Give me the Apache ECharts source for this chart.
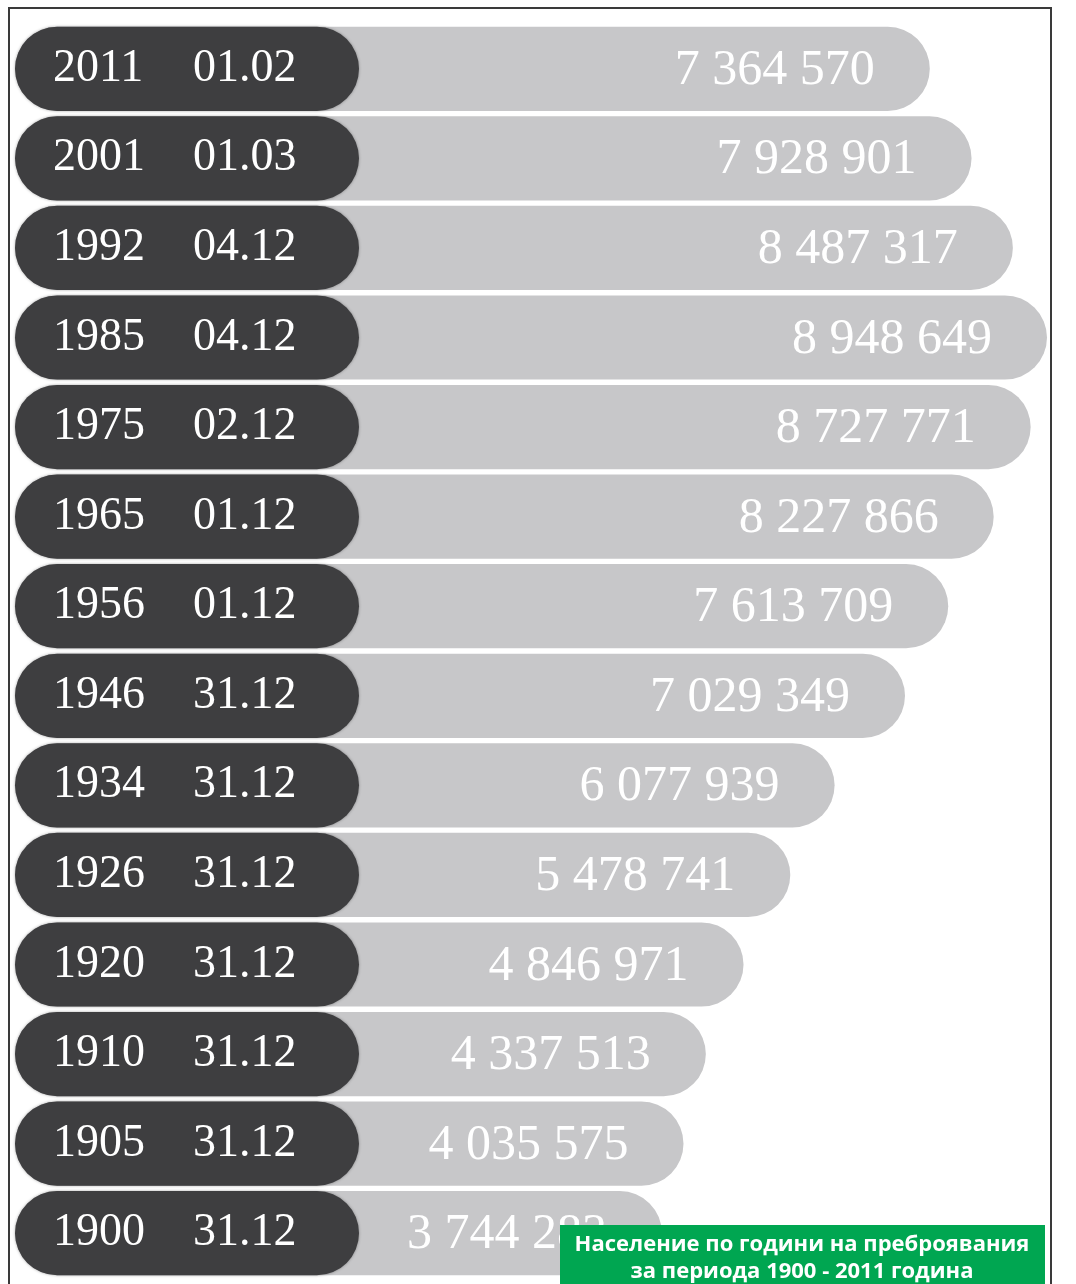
<!DOCTYPE html>
<html>
<head>
<meta charset="utf-8">
<script src="https://cdn.jsdelivr.net/npm/echarts@6/dist/echarts.min.js"></script>
<style>
  html, body { margin: 0; padding: 0; background: #fff; }
  #chart { width: 1076px; height: 1284px; }
</style>
</head>
<body>
<div id="chart"></div>
<script>
// преброявания — година, дата, население
const years = ['2011', '2001', '1992', '1985', '1975', '1965', '1956', '1946', '1934', '1926', '1920', '1910', '1905', '1900']
const dates = ['01.02', '01.03', '04.12', '04.12', '02.12', '01.12', '01.12', '31.12', '31.12', '31.12', '31.12', '31.12', '31.12', '31.12']
const population = [7364570, 7928901, 8487317, 8948649, 8727771, 8227866, 7613709, 7029349, 6077939, 5478741, 4846971, 4337513, 4035575, 3744283]

const axisMin = -5000000
const axisMax = 8948649
const darkWidth = 344   // ширина на тъмната част
const serif = '"Liberation Serif", "DejaVu Serif", serif'

function fmt (v) {
  return String(v).replace(/\B(?=(\d{3})+(?!\d))/g, ' ')
}

let chart = echarts.init(document.getElementById('chart'))

let option = {
  animation: false,
  grid: { left: 15, right: 29, top: 24, height: 1254 },
  xAxis: { type: 'value', min: axisMin, max: axisMax, show: false },
  yAxis: { type: 'category', data: years, inverse: true, show: false },
  series: [
    {
      type: 'custom',
      data: population.map((v, i) => [v, i]),
      renderItem: function (params, api) {
        let idx = api.value(1)
        let start = api.coord([axisMin, idx])
        let end = api.coord([api.value(0), idx])
        let h = api.size([0, 1])[1] * 0.94
        let y = start[1] - h / 2
        let r = h / 2
        return {
          type: 'group',
          children: [
            {
              type: 'rect',
              shape: { x: start[0], y: y, width: end[0] - start[0], height: h, r: r },
              style: { fill: '#c7c7c9' }
            },
            {
              type: 'text',
              style: {
                text: fmt(population[idx]),
                x: end[0] - 55,
                y: start[1] + 2,
                align: 'right',
                verticalAlign: 'middle',
                fill: '#ffffff',
                font: '50px ' + serif
              }
            },
            {
              type: 'rect',
              shape: { x: start[0], y: y, width: darkWidth, height: h, r: r },
              style: { fill: '#3e3e40', shadowBlur: 3, shadowColor: 'rgba(0,0,0,0.35)' }
            },
            {
              type: 'text',
              style: {
                text: years[idx],
                x: start[0] + 38,
                y: start[1],
                align: 'left',
                verticalAlign: 'middle',
                fill: '#ffffff',
                font: '46px ' + serif
              }
            },
            {
              type: 'text',
              style: {
                text: dates[idx],
                x: start[0] + 178,
                y: start[1],
                align: 'left',
                verticalAlign: 'middle',
                fill: '#ffffff',
                font: '46px ' + serif
              }
            }
          ]
        }
      }
    }
  ],
  graphic: [
    {
      type: 'polyline',
      zlevel: 1,
      shape: { points: [[9, 1290], [9, 8], [1051, 8], [1051, 1290]] },
      style: { stroke: '#3a3a3a', lineWidth: 2, fill: null }
    },
    {
      type: 'rect',
      zlevel: 1,
      shape: { x: 560, y: 1225, width: 485, height: 62 },
      style: { fill: '#00a651' }
    },
    {
      type: 'text',
      zlevel: 1,
      z: 10,
      style: {
        text: 'Население по години на преброявания\nза периода 1900 - 2011 година',
        x: 802,
        y: 1258,
        align: 'center',
        verticalAlign: 'middle',
        lineHeight: 27,
        fill: '#ffffff',
        font: 'bold 22px "Open Sans", "Noto Sans", sans-serif'
      }
    }
  ]
}

chart.setOption(option)
window.addEventListener('resize', function () {
  chart.resize()
})
</script>
</body>
</html>
